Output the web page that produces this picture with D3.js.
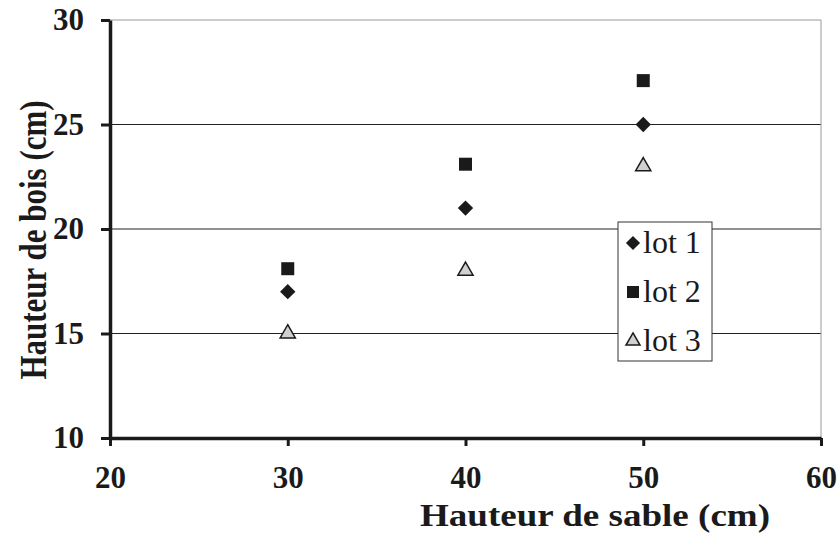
<!DOCTYPE html>
<html>
<head>
<meta charset="utf-8">
<script src="https://cdn.jsdelivr.net/npm/d3@7"></script>
<style>
  html, body { margin: 0; padding: 0; background: #fff; }
  svg { display: block; font-family: "Liberation Serif", "Times New Roman", serif; }
</style>
</head>
<body>
<svg id="chart" width="837" height="535"></svg>
<script>
// Sand height (x) against wood height (y) for three lots
const sandHeights = [30, 40, 50];
const lot1 = [17, 21, 25];
const lot2 = [18.1, 23.1, 27.1];
const lot3 = [15, 18, 23];
const seriesNames = ["lot 1", "lot 2", "lot 3"];
const xTicks = [20, 30, 40, 50, 60];
const yTicks = [10, 15, 20, 25, 30];

const svg = d3.select("#chart");
const plot = { left: 110, right: 821, top: 20, bottom: 438 };

const x = d3.scaleLinear().domain([20, 60]).range([plot.left, plot.right]);
const y = d3.scaleLinear().domain([10, 30]).range([plot.bottom, plot.top]);

const ink = "#1a1a1a";

// horizontal gridlines
svg.append("g").selectAll("line")
  .data(yTicks.filter(v => v > 10))
  .join("line")
  .attr("x1", plot.left).attr("x2", plot.right)
  .attr("y1", d => y(d)).attr("y2", d => y(d))
  .attr("stroke", d => d === 30 ? "#999" : "#222")
  .attr("stroke-width", 1);

// right border
svg.append("line")
  .attr("x1", plot.right).attr("x2", plot.right)
  .attr("y1", plot.top).attr("y2", plot.bottom)
  .attr("stroke", "#999").attr("stroke-width", 1);

// axes
const xAxis = d3.axisBottom(x).tickValues(xTicks).tickSize(8).tickPadding(20).tickSizeOuter(0);
const yAxis = d3.axisLeft(y).tickValues(yTicks).tickSize(9).tickPadding(17).tickSizeOuter(0);

const gx = svg.append("g").attr("transform", `translate(0,${plot.bottom})`).call(xAxis);
const gy = svg.append("g").attr("transform", `translate(${plot.left},0)`).call(yAxis);

[gx, gy].forEach(g => {
  g.select(".domain").attr("stroke", ink).attr("stroke-width", 3.5);
  g.selectAll(".tick line").attr("stroke", ink).attr("stroke-width", 3);
  g.selectAll(".tick text")
    .attr("fill", ink)
    .style("font-family", "'Liberation Serif', serif")
    .style("font-size", "31px")
    .style("font-weight", "bold");
});

// axis titles
svg.append("text")
  .attr("x", 595)
  .attr("y", 526)
  .attr("text-anchor", "middle")
  .attr("textLength", 350)
  .attr("lengthAdjust", "spacingAndGlyphs")
  .attr("fill", ink)
  .style("font-size", "31px").style("font-weight", "bold")
  .text("Hauteur de sable (cm)");

svg.append("text")
  .attr("transform", `translate(46,240) rotate(-90) scale(1,1.2)`)
  .attr("text-anchor", "middle")
  .attr("fill", ink)
  .style("font-size", "31px").style("font-weight", "bold")
  .text("Hauteur de bois (cm)");

// marker symbols
const symbols = [
  { type: d3.symbolDiamond2, size: 150, fill: ink, stroke: "none" },
  { type: d3.symbolSquare, size: 169, fill: ink, stroke: "none" },
  { type: d3.symbolTriangle, size: 100, fill: "#d0d0d0", stroke: ink }
];
const series = [lot1, lot2, lot3];

// legend (white box drawn over gridlines)
const legend = svg.append("g").attr("transform", "translate(618,222)");
legend.append("rect")
  .attr("width", 94).attr("height", 139)
  .attr("fill", "#fff").attr("stroke", "#333").attr("stroke-width", 1);
seriesNames.forEach((name, i) => {
  const row = legend.append("g").attr("transform", `translate(0,${21 + i * 49})`);
  row.append("path")
    .attr("transform", "translate(15,0)")
    .attr("d", d3.symbol(symbols[i].type, symbols[i].size * 0.85)())
    .attr("fill", symbols[i].fill)
    .attr("stroke", symbols[i].stroke).attr("stroke-width", 1.5);
  row.append("text")
    .attr("x", 25).attr("y", 10)
    .attr("fill", ink)
    .style("font-size", "32px")
    .text(name);
});

// data points
series.forEach((vals, i) => {
  svg.append("g").selectAll("path")
    .data(vals.map((v, j) => [sandHeights[j], v]))
    .join("path")
    .attr("transform", d => `translate(${x(d[0])},${y(d[1])})`)
    .attr("d", d3.symbol(symbols[i].type, symbols[i].size)())
    .attr("fill", symbols[i].fill)
    .attr("stroke", symbols[i].stroke).attr("stroke-width", 1.5);
});
</script>
</body>
</html>
